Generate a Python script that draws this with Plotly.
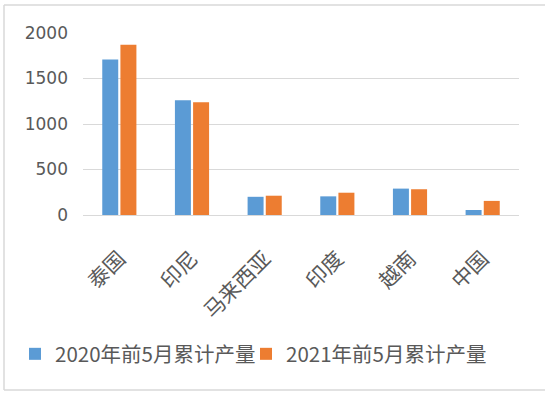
import plotly.graph_objects as go

categories = ["泰国", "印尼", "马来西亚", "印度", "越南", "中国"]
series_2020 = [1710, 1260, 200, 205, 290, 55]
series_2021 = [1870, 1240, 212, 245, 283, 155]
series_names = ["2020年前5月累计产量", "2021年前5月累计产量"]
y_ticks = [0, 500, 1000, 1500, 2000]

W, H = 550, 394
L, R, T, B = 83, 31, 33, 179
pw = W - L - R
ph = H - T - B

def px_x(x):
    return (x - L) / pw

def px_y(y):
    return (H - B - y) / ph

fig = go.Figure()
fig.add_trace(go.Bar(x=categories, y=series_2020, name=series_names[0], legend="legend",
                     showlegend=True,
                     marker=dict(color="#5b9bd5", line=dict(width=0))))
fig.add_trace(go.Bar(x=categories, y=series_2021, name=series_names[1], legend="legend2",
                     showlegend=True,
                     marker=dict(color="#ed7d31", line=dict(width=0))))

legend_font = dict(size=20.5, family="Noto Sans CJK SC", color="#595959")
border = dict(color="#d9d9d9", width=1.5)
bx0, bx1, by0, by1 = px_x(4), px_x(545), px_y(390), px_y(5)

fig.update_layout(
    width=W, height=H, showlegend=True,
    margin=dict(l=L, r=R, t=T, b=B, autoexpand=False),
    paper_bgcolor="white", plot_bgcolor="white",
    barmode="group", bargap=0.5, bargroupgap=0.12,
    font=dict(family="Noto Sans CJK SC, Liberation Sans, sans-serif", color="#595959"),
    xaxis=dict(
        tickangle=-45,
        tickfont=dict(size=21, family="Noto Sans CJK SC", color="#595959"),
        showline=True, linecolor="#d9d9d9", linewidth=1,
        showgrid=False, ticks="", ticklabelstandoff=22,
    ),
    yaxis=dict(
        range=[0, 2000], tickvals=y_ticks,
        tickfont=dict(size=17, family="DejaVu Sans", color="#595959"),
        showgrid=True, gridcolor="#d9d9d9", gridwidth=1,
        zeroline=False, showline=False, ticks="", ticklen=0,
        ticklabelstandoff=14,
    ),
    legend=dict(
        visible=True,
        x=px_x(15), xanchor="left", y=px_y(354), yanchor="middle",
        font=legend_font, itemwidth=30, bgcolor="rgba(0,0,0,0)",
    ),
    legend2=dict(
        visible=True,
        x=px_x(246), xanchor="left", y=px_y(354), yanchor="middle",
        font=legend_font, itemwidth=30, bgcolor="rgba(0,0,0,0)",
    ),
    shapes=[
        dict(type="line", xref="paper", yref="paper", x0=bx0, x1=bx1, y0=by1, y1=by1, line=border, layer="below"),
        dict(type="line", xref="paper", yref="paper", x0=bx0, x1=bx0, y0=by0, y1=by1, line=border, layer="below"),
        dict(type="line", xref="paper", yref="paper", x0=bx0, x1=bx1, y0=by0, y1=by0, line=border, layer="below"),
    ],
)

fig.write_html("out.html", post_script="document.body.style.margin='0';",
               config={"displayModeBar": False})
